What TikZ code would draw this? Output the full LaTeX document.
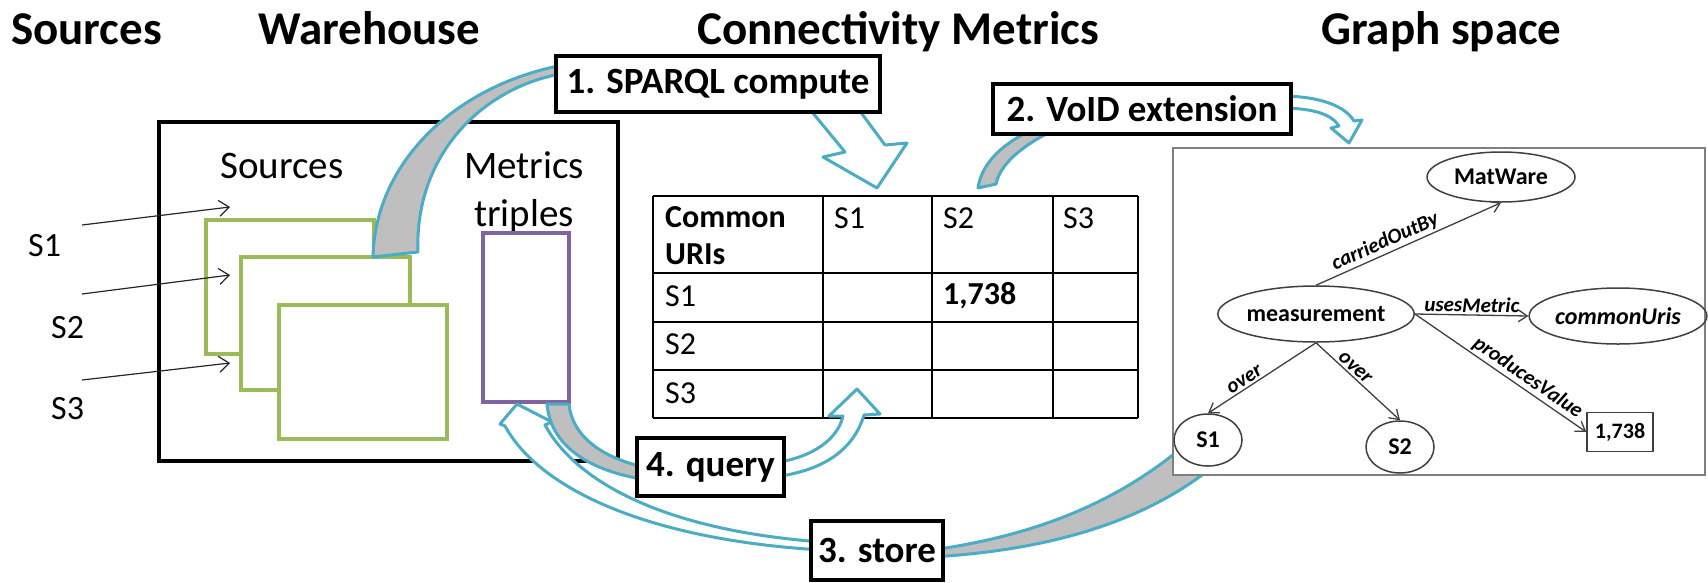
\documentclass[tikz,border=0pt]{standalone}
\usepackage{fontspec}
\setmainfont{Carlito}
\usetikzlibrary{arrows.meta,shapes.geometric}
\definecolor{tealline}{HTML}{4BACC6}
\definecolor{backgray}{HTML}{BFBFBF}
\definecolor{srcgreen}{HTML}{9BBB59}
\definecolor{metpurple}{HTML}{8064A2}
\definecolor{framegray}{HTML}{7F7F7F}
\definecolor{graphline}{HTML}{404040}
\begin{document}
\begin{tikzpicture}[x=1pt,y=-1pt,
  title/.style={font=\fontsize{47}{56}\selectfont\bfseries, inner sep=0, anchor=base west},
  lbl/.style={font=\fontsize{39}{46}\selectfont, inner sep=0},
  side/.style={font=\fontsize{34}{40}\selectfont, inner sep=0, anchor=base west},
  tabtxt/.style={font=\fontsize{32}{38}\selectfont, inner sep=0, anchor=base west},
  tabbold/.style={tabtxt, font=\fontsize{32}{38}\selectfont\bfseries},
  tabline/.style={line width=1.5, black},
  stepbox/.style={draw=black, line width=4, fill=white, inner sep=0,
    font=\fontsize{37}{44}\selectfont\bfseries},
  backface/.style={fill=backgray, draw=tealline, line width=3, line join=round},
  frontface/.style={fill=white, draw=tealline, line width=3, line join=round},
  thinarrow/.style={line width=1.2, black!85, -{Straight Barb[length=10pt,width=16pt]}},
  gnode/.style={ellipse, draw=graphline, line width=1.5, inner sep=0,
    font=\fontsize{24}{28}\selectfont\bfseries},
  gedge/.style={draw=graphline, line width=1.3, -{Straight Barb[length=9pt,width=12pt]}},
  elabel/.style={font=\fontsize{21}{25}\selectfont\bfseries\itshape, sloped, above, inner sep=2}]
\useasboundingbox (0,0) rectangle (1708,582);

% column titles
\node[title] (tsrc) at (11,44) {Sources};
\node[title] (twh) at (258,44) {Warehouse};
\node[title] (tcm) at (697,44) {Connectivity Metrics};
\node[title] (tgs) at (1321,44) {Graph space};

% external sources
\node[side] (s1) at (28,256) {S1};
\node[side] (s2) at (51,338) {S2};
\node[side] (s3) at (51,419) {S3};

% warehouse
\draw[line width=4, black] (159,122) rectangle (618,461);
\node[lbl, anchor=base west] (wsrc) at (220,178) {Sources};
\node[lbl, anchor=base] (wmet) at (524,178) {Metrics};
\node[lbl, anchor=base] (wtri) at (524,226) {triples};
\draw[line width=4, srcgreen, fill=white] (206,220) rectangle (374,354);
\draw[line width=4, srcgreen, fill=white] (241,257) rectangle (410,390);
\draw[line width=4, srcgreen, fill=white] (279,305) rectangle (447,439);
\draw[line width=3.5, metpurple, fill=white] (483,233) rectangle (569,402);

\coordinate (a1s) at (82,225); \coordinate (a1e) at (230,207);
\coordinate (a2s) at (82,294); \coordinate (a2e) at (230,275);
\coordinate (a3s) at (82,380); \coordinate (a3e) at (230,363);
\draw[thinarrow] (a1s) -- (a1e);
\draw[thinarrow] (a2s) -- (a2e);
\draw[thinarrow] (a3s) -- (a3e);

% connectivity table
\foreach \y in {196,273,322,370,418} \draw[tabline] (653,\y) -- (1138,\y);
\foreach \x in {653,823,932,1053,1138} \draw[tabline] (\x,196) -- (\x,418);
\node[tabbold] (hc) at (665,227) {Common};
\node[tabbold] (hu) at (665,264) {URIs};
\node[tabtxt] (h1) at (834,228) {S1};
\node[tabtxt] (h2) at (943,228) {S2};
\node[tabtxt] (h3) at (1063,228) {S3};
\node[tabtxt] (r1) at (665,306) {S1};
\node[tabtxt] (r2) at (665,354) {S2};
\node[tabtxt] (r3) at (665,403) {S3};
\node[tabbold] (v12) at (943,304) {1,738};

% 1. compute: back face rising from the sources, front face down into the table
\path[backface] (373,257) .. controls (375,160) and (460,80) .. (575,63)
  -- (575,72) .. controls (490,80) and (414,150) .. (418,252) -- cycle;
\path[frontface] (798,95) -- (845,152) -- (823,157) -- (877,188)
  -- (907,143) -- (885,145) -- (848,95) -- cycle;

% 2. VoID extension: table up to the graph space
\path[backface] (978,188) .. controls (982,160) and (1008,138) .. (1050,122)
  -- (1058,128) .. controls (1020,146) and (1000,165) .. (996,184) -- cycle;
\path[frontface] (1280,96) .. controls (1320,96) and (1345,106) .. (1354,121)
  -- (1362,120) -- (1349,143) -- (1331,128) -- (1339,126)
  .. controls (1332,115) and (1315,108) .. (1280,108) -- cycle;

% 3. store: graph space back into the warehouse
\path[backface] (1185,445) .. controls (1120,500) and (1040,535) .. (932,550)
  -- (932,557) .. controls (1050,550) and (1145,522) .. (1215,465) -- cycle;
\path[frontface] (505,426) .. controls (540,490) and (650,540) .. (822,550)
  -- (822,542) .. controls (660,530) and (575,480) .. (545,425)
  -- (552,422) -- (517,404) -- (500,424) -- cycle;

% 4. query: metrics triples answer into the table
\path[backface] (547,404) .. controls (550,440) and (580,470) .. (648,480)
  -- (648,468) .. controls (600,458) and (572,435) .. (569,404) -- cycle;
\path[frontface] (774,463) .. controls (815,457) and (838,438) .. (843,416)
  -- (829,416) -- (857,389) -- (880,414) -- (864,415)
  .. controls (855,445) and (830,470) .. (774,477) -- cycle;

% graph space
\draw[line width=2.5, framegray, fill=white] (1173,148) rectangle (1705,475);
\node[gnode, minimum width=148, minimum height=50] (mw) at (1501,177) {MatWare};
\node[gnode, minimum width=196, minimum height=56] (ms) at (1316,314) {measurement};
\node[gnode, minimum width=174, minimum height=56,
  font=\fontsize{24}{28}\selectfont\bfseries\itshape] (cu) at (1618,316) {commonUris};
\node[gnode, minimum width=68, minimum height=52] (g1) at (1208,440) {S1};
\node[gnode, minimum width=68, minimum height=52] (g2) at (1400,447) {S2};
\node[draw=graphline, line width=1.5, minimum width=66, minimum height=39, inner sep=0,
  font=\fontsize{22}{26}\selectfont\bfseries] (gv) at (1620,432) {1,738};
\draw[gedge] (ms.north) -- node[elabel, pos=0.4] {carriedOutBy} (mw.south);
\draw[gedge] (ms.east) -- node[elabel] {usesMetric} (cu.west);
\draw[gedge] (ms.east) -- node[elabel, pos=0.62] {producesValue} (gv.west);
\draw[gedge] (ms.south) -- node[elabel, pos=0.62] {over} (g1.north);
\draw[gedge] (ms.south) -- node[elabel, pos=0.4] {over} (g2.north);

% step labels
\node[stepbox, minimum width=324, minimum height=56] (st1) at (718,84) {1. SPARQL compute};
\node[stepbox, minimum width=298, minimum height=50] (st2) at (1142,109) {2. VoID extension};
\node[stepbox, minimum width=132, minimum height=59] (st3) at (877,550.5) {3. store};
\node[stepbox, minimum width=147, minimum height=58] (st4) at (710.5,467) {4. query};
\end{tikzpicture}
\end{document}
